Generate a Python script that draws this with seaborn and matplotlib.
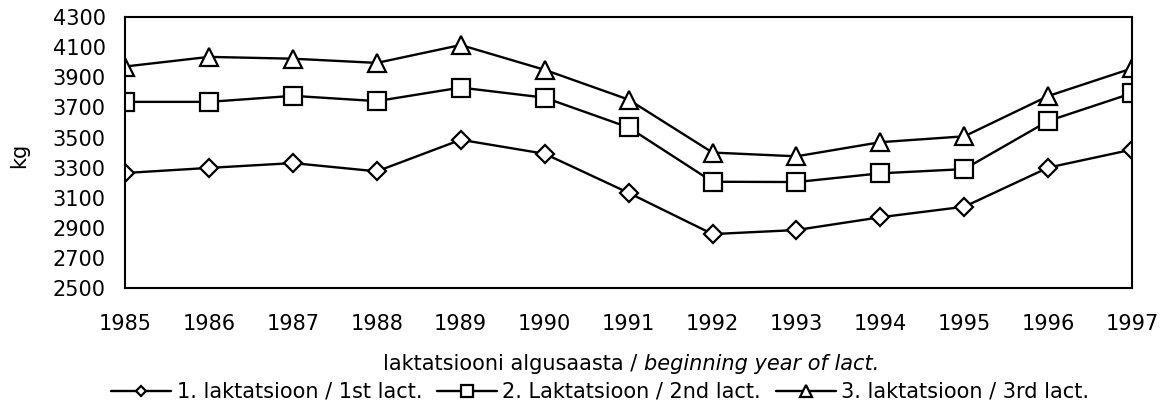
import numpy as np
import pandas as pd
import matplotlib
matplotlib.use("Agg")
import matplotlib.pyplot as plt
import seaborn as sns

years = [1985, 1986, 1987, 1988, 1989, 1990, 1991, 1992, 1993, 1994, 1995, 1996, 1997]
lact1 = [3264, 3298, 3330, 3275, 3485, 3392, 3132, 2858, 2885, 2970, 3040, 3300, 3420]
lact2 = [3737, 3737, 3777, 3742, 3832, 3765, 3567, 3206, 3204, 3262, 3290, 3610, 3795]
lact3 = [3972, 4036, 4024, 3996, 4115, 3950, 3752, 3400, 3375, 3469, 3508, 3776, 3960]
series_names = ["1. laktatsioon / 1st lact.", "2. Laktatsioon / 2nd lact.", "3. laktatsioon / 3rd lact."]
yticks = list(range(2500, 4301, 200))
xlabel_plain = "laktatsiooni algusaasta / "
xlabel_italic = "beginning year of lact."

df = pd.DataFrame({
    "year": years * 3,
    "kg": lact1 + lact2 + lact3,
    "series": [series_names[0]] * 13 + [series_names[1]] * 13 + [series_names[2]] * 13,
})

sns.set_style("white")
plt.rcParams['font.family'] = ['DejaVu Sans']
plt.rcParams['text.color'] = 'black'
plt.rcParams['xtick.color'] = 'black'
plt.rcParams['ytick.color'] = 'black'
plt.rcParams['axes.labelcolor'] = 'black'
FS = 15

fig = plt.figure(figsize=(11.63, 4.09), dpi=100)
ax = fig.add_axes([0.1075, 0.296, 0.866, 0.662])

markers = {series_names[0]: "D", series_names[1]: "s", series_names[2]: "^"}
sizes_m = {series_names[0]: 9, series_names[1]: 13.5, series_names[2]: 13.5}
for name in series_names:
    sub = df[df["series"] == name]
    sns.lineplot(data=sub, x="year", y="kg", ax=ax, color="black", linewidth=1.7,
                 marker=markers[name], markersize=sizes_m[name],
                 markerfacecolor="white", markeredgecolor="black", markeredgewidth=1.6,
                 label=name, legend=False)

ax.set_xlim(1985, 1997)
ax.set_ylim(2500, 4300)
ax.set_yticks(yticks)
ax.set_yticklabels([str(v) for v in yticks], fontsize=FS, color="black")
ax.set_xticks(years)
ax.set_xticklabels([str(y) for y in years], fontsize=FS, color="black")
ax.tick_params(axis="x", pad=19, length=0)
ax.tick_params(axis="y", pad=14, length=0)
for s in ax.spines.values():
    s.set_visible(True)
    s.set_color("black")
    s.set_linewidth(1.5)
ax.set_xlabel("")
ax.set_ylabel("")
fig.text(0.0163, 0.62, "kg", rotation=90, ha="center", va="center", fontsize=FS, color="black")

# two-part x label (plain + italic), centred as one
t1 = fig.text(0, 0.11, xlabel_plain, ha="left", va="center", fontsize=FS, color="black")
t2 = fig.text(0, 0.11, xlabel_italic, ha="left", va="center", fontsize=FS, style="italic", color="black")
fig.canvas.draw()
r = fig.canvas.get_renderer()
w1 = t1.get_window_extent(r).width / fig.bbox.width
w2 = t2.get_window_extent(r).width / fig.bbox.width
x0 = 0.5426 - (w1 + w2) / 2
t1.set_x(x0)
t2.set_x(x0 + w1)

handles, labels = ax.get_legend_handles_labels()
leg = fig.legend(handles, labels, loc="center", bbox_to_anchor=(0.516, 0.042), ncol=3,
                 frameon=False, fontsize=FS, handlelength=2.9, handletextpad=0.25,
                 columnspacing=0.7, markerscale=0.6, labelcolor="black")

fig.savefig("out.png", dpi=100)
